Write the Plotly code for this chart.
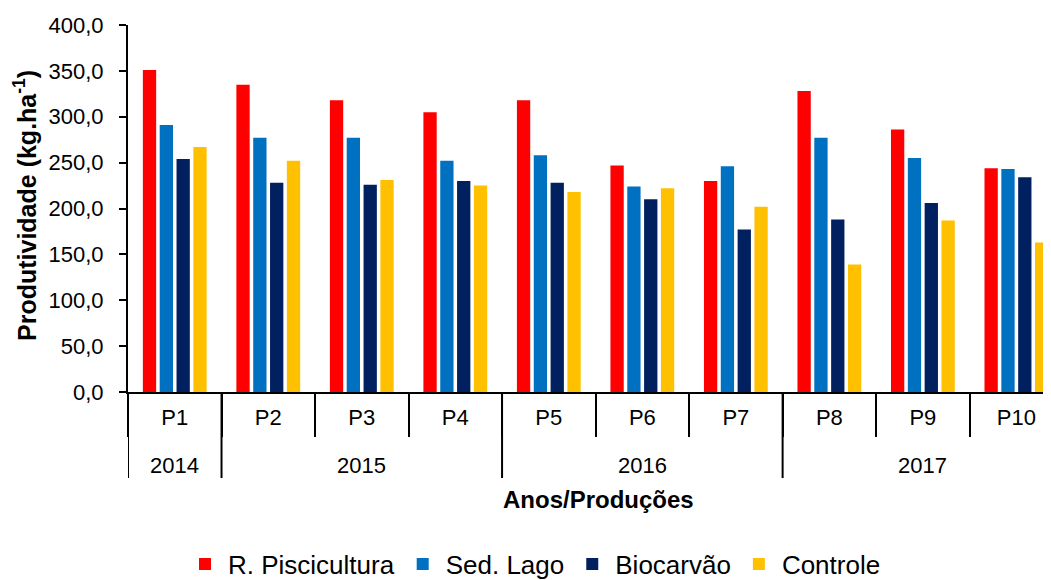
import plotly.graph_objects as go

productions = ["P1", "P2", "P3", "P4", "P5", "P6", "P7", "P8", "P9", "P10"]
years = ["2014", "2015", "2016", "2017"]
year_counts = [1, 3, 3, 3]

series_names = ["R. Piscicultura", "Sed. Lago", "Biocarvão", "Controle"]
r_piscicultura = [351, 335, 318, 305, 318, 247, 230, 328, 286, 244]
sed_lago = [291, 277, 277, 252, 258, 224, 246, 277, 255, 243]
biocarvao = [254, 228, 226, 230, 228, 210, 177, 188, 206, 234]
controle = [267, 252, 231, 225, 218, 222, 202, 139, 187, 163]
colors = ["#FF0000", "#0070C0", "#002060", "#FFC000"]

FONT = "Liberation Sans, Arial, sans-serif"
OFF = 8  # page body margin offset
W, H = 1051 - OFF, 580 - OFF
L, R, T, B = 128 - OFF, 0, 25 - OFF, 188
plot_h = H - T - B
plot_w = W - L - R

def py(sy):
    # screen pixel y -> paper y
    return (H - B - (sy - OFF)) / plot_h

def px(sx):
    # screen pixel x -> paper x
    return ((sx - OFF) - L) / plot_w

fig = go.Figure()
for name, vals, c in zip(series_names, [r_piscicultura, sed_lago, biocarvao, controle], colors):
    fig.add_trace(go.Bar(x=productions, y=vals, name=name, marker=dict(color=c, line=dict(width=0))))

shapes = []
annotations = []
start = 0
bounds = [-0.5]
for yr, n in zip(years, year_counts):
    center = start + (n - 1) / 2
    annotations.append(dict(x=center, xref="x", y=py(465), yref="paper", text=yr, showarrow=False,
                            xanchor="center", yanchor="middle", font=dict(family=FONT, size=22, color="black")))
    start += n
    bounds.append(start - 0.5)
for b in bounds:
    shapes.append(dict(type="line", xref="x", yref="paper", x0=b, x1=b, y0=0, y1=py(478),
                       line=dict(color="black", width=2)))

annotations.append(dict(x=px(598), xref="paper", y=py(499), yref="paper", text="<b>Anos/Produções</b>",
                        showarrow=False, xanchor="center", yanchor="middle",
                        font=dict(family=FONT, size=24, color="black")))
annotations.append(dict(x=px(25), xref="paper", y=py(206), yref="paper",
                        text="<b>Produtividade (kg.ha<sup>-1</sup>)</b>", textangle=-90,
                        showarrow=False, xanchor="center", yanchor="middle",
                        font=dict(family=FONT, size=25, color="black")))

fig.update_layout(
    width=W, height=H,
    margin=dict(l=L, r=R, t=T, b=B, pad=0, autoexpand=False),
    paper_bgcolor="white", plot_bgcolor="white",
    barmode="group", bargap=0.28, bargroupgap=0.21,
    separators=",.",
    font=dict(family=FONT, color="black"),
    showlegend=True,
    legend=dict(orientation="h", x=px(534), xanchor="center", y=py(564), yanchor="middle",
                font=dict(family=FONT, size=26, color="black"), traceorder="normal",
                itemwidth=36, bgcolor="rgba(0,0,0,0)"),
    shapes=shapes,
    annotations=annotations,
)
fig.update_xaxes(
    type="category", range=[-0.5, 9.37], showline=True, linecolor="black", linewidth=2,
    ticks="outside", tickson="boundaries", ticklen=43, tickwidth=2, tickcolor="black",
    tickfont=dict(family=FONT, size=22, color="black"), ticklabelstandoff=5,
    showgrid=False, zeroline=False, automargin=False,
)
fig.update_yaxes(
    range=[0, 400], dtick=50, tickformat=".1f", showline=True, linecolor="black", linewidth=2,
    ticks="outside", ticklen=7, tickwidth=2, tickcolor="black",
    tickfont=dict(family=FONT, size=22, color="black"), ticklabelstandoff=11,
    showgrid=False, zeroline=False, automargin=False,
)
fig.write_html("out.html")
